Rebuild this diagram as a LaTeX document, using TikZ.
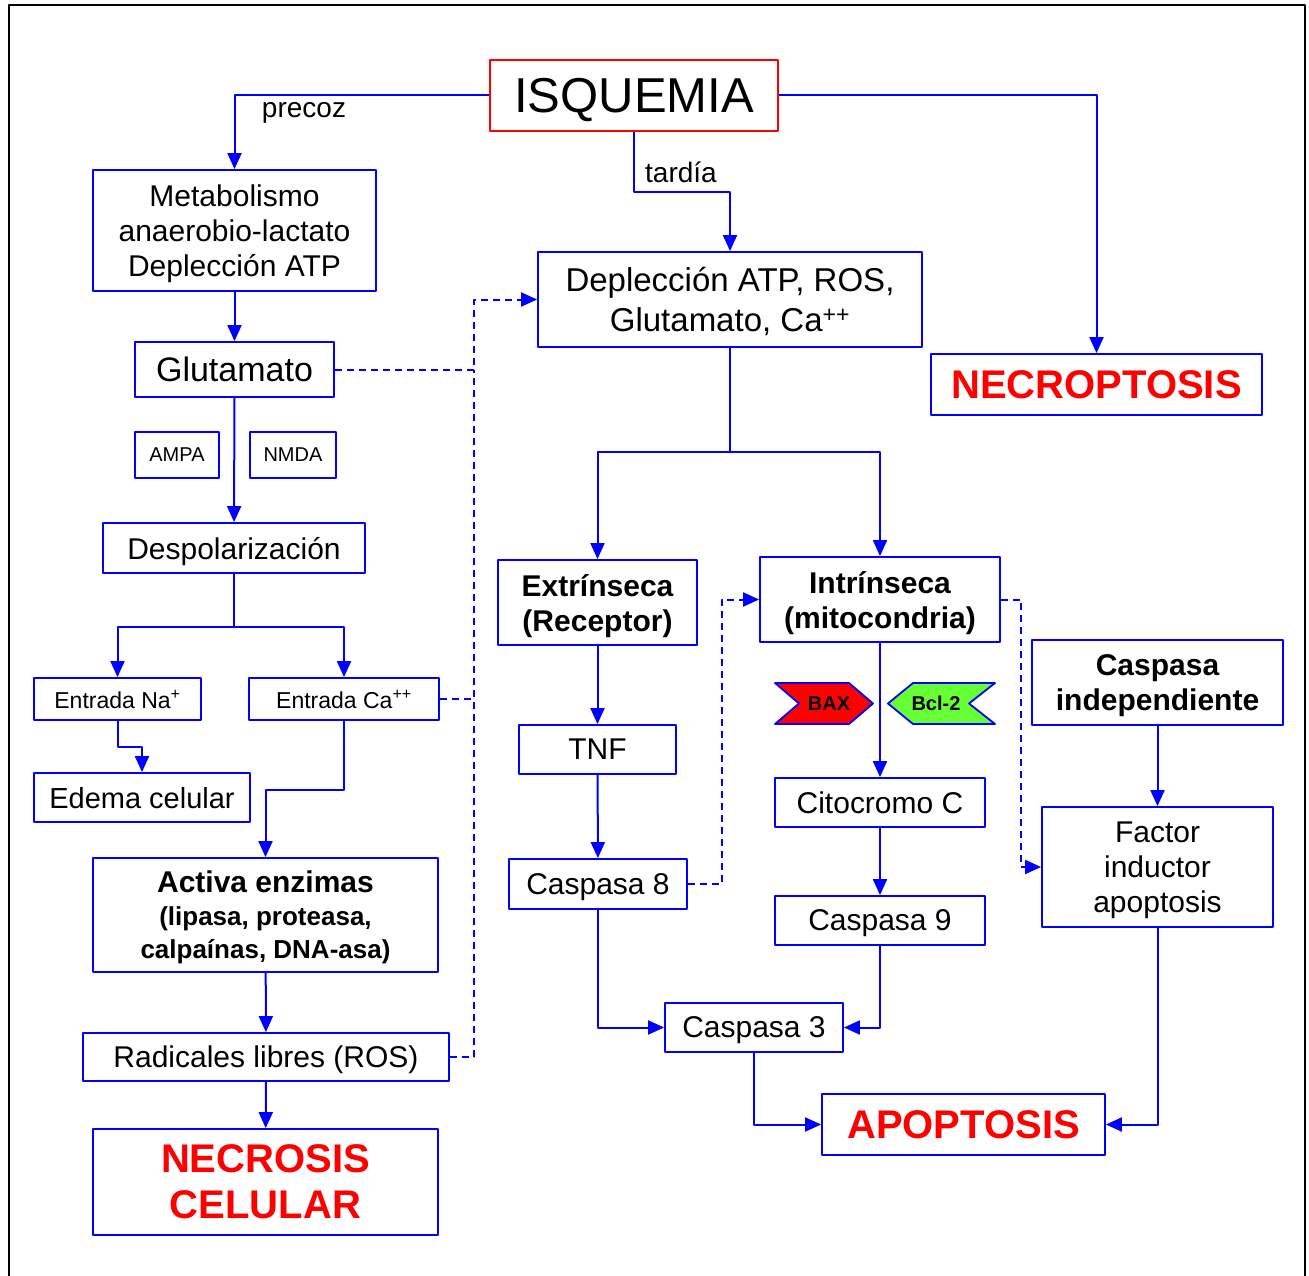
\documentclass[tikz,border=0pt]{standalone}
\usepackage{fontspec}
\setmainfont{Liberation Sans}
\usetikzlibrary{arrows.meta}
\definecolor{baxred}{RGB}{255,0,0}
\definecolor{bclgreen}{RGB}{102,255,51}
\begin{document}
\begin{tikzpicture}[x=1pt,y=-1pt,line join=round,
		box/.style={draw=blue,line width=1.8pt,inner sep=0pt,text depth=0pt,align=center,font=\fontsize{30}{35}\selectfont},
		boldbox/.style={box,font=\bfseries\fontsize{30}{35}\selectfont},
		smallbox/.style={box,font=\fontsize{20}{24}\selectfont},
		endbox/.style={box,text=red,font=\bfseries\fontsize{40}{46}\selectfont},
		lbl/.style={inner sep=0pt,text depth=0pt,font=\fontsize{28}{32}\selectfont},
		arr/.style={draw=blue,line width=2pt,-{Triangle[length=16pt,width=14pt]}},
		link/.style={draw=blue,line width=2pt},
		dashlink/.style={draw=blue,line width=2pt,dash pattern=on 7pt off 5pt},
		darr/.style={dashlink,-{Triangle[length=16pt,width=14pt]}}]
	\useasboundingbox (0,0) rectangle (1309,1276);
	\draw[line width=2pt] (9,1276) -- (9,5) -- (1305,5) -- (1305,1276);
	\node[box,draw=red,minimum width=288,minimum height=71,font=\fontsize{49}{55}\selectfont] (isq) at (634,95.5) {ISQUEMIA};
	\node[box,minimum width=283,minimum height=121] (meta) at (234.5,230.5) {Metabolismo\\anaerobio-lactato\\Deplección ATP};
	\node[box,minimum width=199,minimum height=55,font=\fontsize{34}{38}\selectfont] (glut) at (234.5,369.5) {Glutamato};
	\node[smallbox,minimum width=84,minimum height=46] (ampa) at (177,455) {AMPA};
	\node[smallbox,minimum width=86,minimum height=46] (nmda) at (293,455) {NMDA};
	\node[box,minimum width=262,minimum height=50] (despol) at (234,548) {Despolarización};
	\node[box,minimum width=167,minimum height=42,font=\fontsize{23}{27}\selectfont] (na) at (117.5,699) {Entrada Na\textsuperscript{+}};
	\node[box,minimum width=190,minimum height=42,font=\fontsize{23}{27}\selectfont] (ca) at (344,699) {Entrada Ca\textsuperscript{++}};
	\node[box,minimum width=216,minimum height=49,font=\fontsize{29}{33}\selectfont] (edema) at (142,797.5) {Edema celular};
	\node[boldbox,minimum width=345,minimum height=114,font=\bfseries\fontsize{30}{33}\selectfont] (activa) at (265.5,915) {Activa enzimas\\{\fontsize{26}{33}\selectfont (lipasa, proteasa,}\\{\fontsize{26}{33}\selectfont calpaínas, DNA-asa)}};
	\node[box,minimum width=366,minimum height=48] (ros) at (266,1057) {Radicales libres (ROS)};
	\node[endbox,minimum width=345,minimum height=106] (necrosis) at (265.5,1182) {NECROSIS\\CELULAR};
	\node[box,minimum width=384,minimum height=95,font=\fontsize{33}{40}\selectfont] (depl) at (730,299.5) {Deplección ATP, ROS,\\Glutamato, Ca\textsuperscript{++}};
	\node[endbox,minimum width=331,minimum height=61] (necrop) at (1096.5,384.5) {NECROPTOSIS};
	\node[boldbox,minimum width=199,minimum height=85] (extr) at (597.5,602.5) {Extrínseca\\(Receptor)};
	\node[boldbox,minimum width=240,minimum height=85] (intr) at (880,599.5) {Intrínseca\\(mitocondria)};
	\node[boldbox,minimum width=251,minimum height=85] (cindep) at (1157.5,682.5) {Caspasa\\independiente};
	\node[box,minimum width=157,minimum height=49] (tnf) at (597.5,749.5) {TNF};
	\node[box,minimum width=178,minimum height=50] (casp8) at (598,884) {Caspasa 8};
	\node[box,minimum width=210,minimum height=49] (citoc) at (880,802.5) {Citocromo C};
	\node[box,minimum width=210,minimum height=49] (casp9) at (880,920.5) {Caspasa 9};
	\node[box,minimum width=231,minimum height=120] (factor) at (1157.5,867) {Factor\\inductor\\apoptosis};
	\node[box,minimum width=178,minimum height=49] (casp3) at (754,1027.5) {Caspasa 3};
	\node[endbox,minimum width=283,minimum height=61] (apopt) at (963.5,1124.5) {APOPTOSIS};
	\draw[blue,line width=1.8pt,fill=baxred] (775,683) -- (849,683) -- (873,703.5) -- (849,724) -- (775,724) -- (799,703.5) -- cycle;
	\draw[blue,line width=1.8pt,fill=bclgreen] (888,703.5) -- (913,683) -- (995,683) -- (969,703.5) -- (995,724) -- (913,724) -- cycle;
	\node[font=\bfseries\fontsize{20}{24}\selectfont,inner sep=0pt,text depth=0pt] (bax) at (829,703.5) {BAX};
	\node[font=\bfseries\fontsize{20}{24}\selectfont,inner sep=0pt,text depth=0pt] (bcl) at (936,703.5) {Bcl-2};
	\node[lbl] (precoz) at (304,110) {precoz};
	\node[lbl] (tardia) at (681,172) {tardía};
	\draw[arr] (isq.west) -| (meta.north);
	\draw[arr] (isq.south) -- ++(0,60) -| (depl.north);
	\draw[arr] (isq.east) -| (necrop.north);
	\draw[arr] (meta) -- (glut);
	\draw[arr] (glut) -- (despol);
	\draw[arr] (despol.south) -- ++(0,53) -| (na.north);
	\draw[arr] (despol.south) -- ++(0,53) -| (ca.north);
	\draw[arr] (na.south) -- ++(0,26) -| (edema.north);
	\draw[arr] (ca.south) -- ++(0,69) -| (activa.north);
	\draw[arr] (activa) -- (ros);
	\draw[arr] (ros) -- (necrosis);
	\draw[darr] (glut.east) -- (474,369.5) |- (depl.west);
	\draw[dashlink] (ca.east) -- (474,699);
	\draw[dashlink] (ros.east) -| (474,369.5);
	\draw[arr] (depl.south) -- ++(0,104) -| (extr.north);
	\draw[arr] (depl.south) -- ++(0,104) -| (intr.north);
	\draw[arr] (extr) -- (tnf);
	\draw[arr] (tnf) -- (casp8);
	\draw[darr] (casp8.east) -- (722,884) |- (intr.west);
	\draw[arr] (intr) -- (citoc);
	\draw[arr] (citoc) -- (casp9);
	\draw[arr] (casp9.south) |- (casp3.east);
	\draw[arr] (casp8.south) |- (casp3.west);
	\draw[darr] (intr.east) -- (1021,599.5) |- (factor.west);
	\draw[arr] (cindep) -- (factor);
	\draw[arr] (casp3.south) |- (apopt.west);
	\draw[arr] (factor.south) |- (apopt.east);
\end{tikzpicture}
\end{document}
